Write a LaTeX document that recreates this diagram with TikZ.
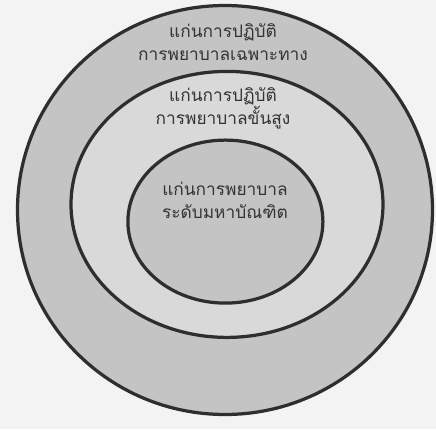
\documentclass[tikz,border=0pt]{standalone}
\usepackage{fontspec}
\usepackage{tikz}
\usetikzlibrary{shapes.geometric, positioning}
\newfontfamily\thaifont[Script=Thai]{Loma}
\definecolor{paper}{HTML}{F3F3F3}
\definecolor{ringdark}{HTML}{C4C4C4}
\definecolor{ringlight}{HTML}{D9D9D9}
\definecolor{rimline}{HTML}{2E2E2E}
\tikzstyle{ring} = [
  ellipse, draw=rimline, line width=2.3pt, inner sep=0pt
]
\tikzstyle{label} = [
  align=center, font=\thaifont\fontsize{12.3}{16.2}\selectfont,
  text=black!80, inner sep=0pt
]

\begin{document}
\begin{tikzpicture}

  \fill[paper] (-5.625, -5.475) rectangle (5.275, 5.25);
  \useasboundingbox (-5.625, -5.475) rectangle (5.275, 5.25);

  \node[ring, fill=ringdark, minimum width=10.375cm, minimum height=10.225cm] (outer) at (0, 0) {};
  \node[ring, fill=ringlight, minimum width=7.8cm, minimum height=6.65cm] (middle) at (0.05, 0.14) {};
  \node[ring, fill=ringdark, minimum width=4.875cm, minimum height=4.075cm] (inner) at (0.01, -0.29) {};

  \node[label] (specialist) at (-0.05, 4.2) {แก่นการปฏิบัติ\\การพยาบาลเฉพาะทาง};
  \node[label] (advanced) at (-0.05, 2.54) {แก่นการปฏิบัติ\\การพยาบาลขั้นสูง};
  \node[label] (graduate) at (0.0, 0.25) {แก่นการพยาบาล\\ระดับมหาบัณฑิต};

\end{tikzpicture}
\end{document}
